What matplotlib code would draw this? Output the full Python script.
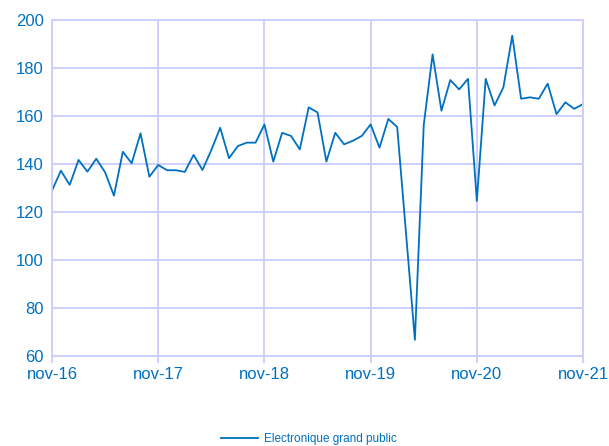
import matplotlib.pyplot as plt
import numpy as np

plt.rcParams['font.family'] = ['Liberation Sans', 'DejaVu Sans']

# monthly index, nov-16 .. nov-21
values = [128.9, 137.2, 131.3, 141.7, 136.8, 142.2, 136.5, 126.8, 145.1, 140.3,
          152.8, 134.7, 139.6, 137.4, 137.4, 136.7, 143.8, 137.5, 145.8, 155.1,
          142.4, 147.5, 148.9, 148.9, 156.5, 141.0, 153.0, 151.7, 146.1, 163.6,
          161.5, 141.0, 153.0, 148.2, 149.7, 151.7, 156.5, 146.8, 158.8, 155.4,
          111.0, 66.7, 156.3, 185.7, 162.2, 175.0, 171.1, 175.5, 124.6, 175.5,
          164.4, 172.0, 193.5, 167.2, 167.8, 167.2, 173.5, 160.8, 165.7, 163.0,
          165.0]
tick_labels = ['nov-16', 'nov-17', 'nov-18', 'nov-19', 'nov-20', 'nov-21']
series_name = 'Electronique grand public'

blue = '#0070c0'
grid_col = '#ccccff'

fig = plt.figure(figsize=(6.09, 4.46), dpi=100)
ax = fig.add_axes([0.0854, 0.202, 0.872, 0.753])

x = np.arange(len(values))
ax.plot(x, values, color=blue, lw=1.3, label=series_name)

ax.set_xlim(0, 60)
ax.set_ylim(60, 200)
ax.set_xticks(np.arange(0, 61, 12))
ax.set_xticklabels(tick_labels)
ax.set_yticks(np.arange(60, 201, 20))

ax.grid(True, color=grid_col, lw=1.3)
for s in ax.spines.values():
    s.set_color(grid_col)
    s.set_linewidth(1.3)
ax.tick_params(axis='x', colors=grid_col, labelcolor=blue, labelsize=12, length=5, width=1.3, pad=3)
ax.tick_params(axis='y', length=0, labelcolor=blue, labelsize=12, pad=6)

fig.legend(loc='lower center', bbox_to_anchor=(0.507, -0.022), frameon=False,
           fontsize=8.5, labelcolor=blue, handlelength=3.1, handletextpad=0.5)

fig.savefig('out.png', dpi=100)
